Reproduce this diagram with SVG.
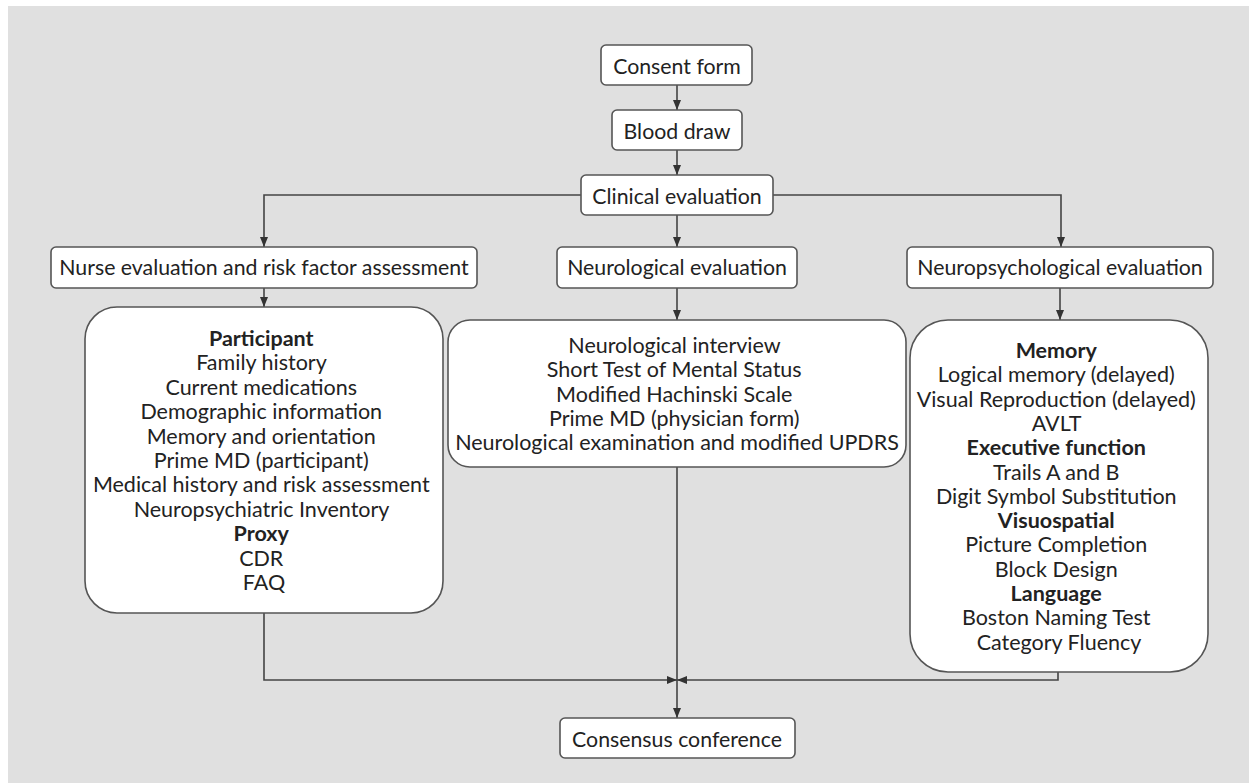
<svg xmlns="http://www.w3.org/2000/svg" width="1249" height="783" viewBox="0 0 1249 783">
<defs>
<marker id="arr" viewBox="0 0 10 10" refX="10" refY="5" markerWidth="10" markerHeight="10" markerUnits="userSpaceOnUse" orient="auto">
<path d="M0,1 L10,5 L0,9 Z" fill="#333"/>
</marker>
<style>
.box{fill:#fff;stroke:#555;stroke-width:1.6}
.t{font-family:Lato,"Liberation Sans",sans-serif;font-size:21.5px;fill:#222;text-anchor:middle}
.h{font-family:Lato,"Liberation Sans",sans-serif;font-size:21.3px;fill:#222;text-anchor:middle}
.b{font-weight:bold}
.c{fill:none;stroke:#444;stroke-width:1.6}
</style>
</defs>
<rect x="0" y="0" width="1249" height="783" fill="#fff"/>
<rect x="8" y="6" width="1241" height="777" fill="#e0e0e0"/>

<g id="connectors">
<path class="c" d="M677,85 V110" marker-end="url(#arr)"/>
<path class="c" d="M677,150 V175" marker-end="url(#arr)"/>
<path class="c" d="M677,215 V247" marker-end="url(#arr)"/>
<path class="c" d="M581,195 H264 V247" marker-end="url(#arr)"/>
<path class="c" d="M773,195 H1061 V247" marker-end="url(#arr)"/>
<path class="c" d="M264,288 V307" marker-end="url(#arr)"/>
<path class="c" d="M677,288 V320" marker-end="url(#arr)"/>
<path class="c" d="M1060,288 V320" marker-end="url(#arr)"/>
<path class="c" d="M264,613 V680 H677" marker-end="url(#arr)"/>
<path class="c" d="M1058,672 V680 H677" marker-end="url(#arr)"/>
<path class="c" d="M677,467 V718" marker-end="url(#arr)"/>
</g>

<g id="consent">
<rect class="box" x="601" y="45" width="151" height="40" rx="5"/>
<text class="h" x="677" y="74">Consent form</text>
</g>
<g id="blood">
<rect class="box" x="612" y="110" width="130" height="40" rx="5"/>
<text class="h" x="677" y="139">Blood draw</text>
</g>
<g id="clinical">
<rect class="box" x="581" y="175" width="192" height="40" rx="5"/>
<text class="h" x="677" y="204">Clinical evaluation</text>
</g>
<g id="nurse">
<rect class="box" x="51" y="247" width="426" height="41" rx="5"/>
<text class="h" x="264" y="275">Nurse evaluation and risk factor assessment</text>
</g>
<g id="neuro">
<rect class="box" x="557" y="247" width="240" height="41" rx="5"/>
<text class="h" x="677" y="275">Neurological evaluation</text>
</g>
<g id="neuropsych">
<rect class="box" x="907" y="247" width="306" height="41" rx="5"/>
<text class="h" x="1060" y="275">Neuropsychological evaluation</text>
</g>

<g id="participant">
<rect class="box" x="85" y="307" width="358" height="306" rx="32"/>
<text class="t" x="264" y="346"><tspan class="b">Participant</tspan>
<tspan x="264" dy="24.4">Family history</tspan>
<tspan x="264" dy="24.4">Current medications</tspan>
<tspan x="264" dy="24.4">Demographic information</tspan>
<tspan x="264" dy="24.4">Memory and orientation</tspan>
<tspan x="264" dy="24.4">Prime MD (participant)</tspan>
<tspan x="264" dy="24.4">Medical history and risk assessment</tspan>
<tspan x="264" dy="24.4">Neuropsychiatric Inventory</tspan>
<tspan x="264" dy="24.4" class="b">Proxy</tspan>
<tspan x="264" dy="24.4">CDR</tspan>
<tspan x="264" dy="24.4">FAQ</tspan></text>
</g>

<g id="neurocontent">
<rect class="box" x="448" y="320" width="458" height="147" rx="22"/>
<text class="t" x="677" y="353">Neurological interview
<tspan x="677" dy="24.3">Short Test of Mental Status</tspan>
<tspan x="677" dy="24.3">Modified Hachinski Scale</tspan>
<tspan x="677" dy="24.3">Prime MD (physician form)</tspan>
<tspan x="677" dy="24.3">Neurological examination and modified UPDRS</tspan></text>
</g>

<g id="neuropsychcontent">
<rect class="box" x="910" y="320" width="298" height="352" rx="38"/>
<text class="t" x="1059" y="358"><tspan class="b">Memory</tspan>
<tspan x="1059" dy="24.3">Logical memory (delayed)</tspan>
<tspan x="1059" dy="24.3">Visual Reproduction (delayed)</tspan>
<tspan x="1059" dy="24.3">AVLT</tspan>
<tspan x="1059" dy="24.3" class="b">Executive function</tspan>
<tspan x="1059" dy="24.3">Trails A and B</tspan>
<tspan x="1059" dy="24.3">Digit Symbol Substitution</tspan>
<tspan x="1059" dy="24.3" class="b">Visuospatial</tspan>
<tspan x="1059" dy="24.3">Picture Completion</tspan>
<tspan x="1059" dy="24.3">Block Design</tspan>
<tspan x="1059" dy="24.3" class="b">Language</tspan>
<tspan x="1059" dy="24.3">Boston Naming Test</tspan>
<tspan x="1059" dy="24.3">Category Fluency</tspan></text>
</g>

<g id="consensus">
<rect class="box" x="560" y="718" width="235" height="40" rx="5"/>
<text class="h" x="677" y="747">Consensus conference</text>
</g>
</svg>
